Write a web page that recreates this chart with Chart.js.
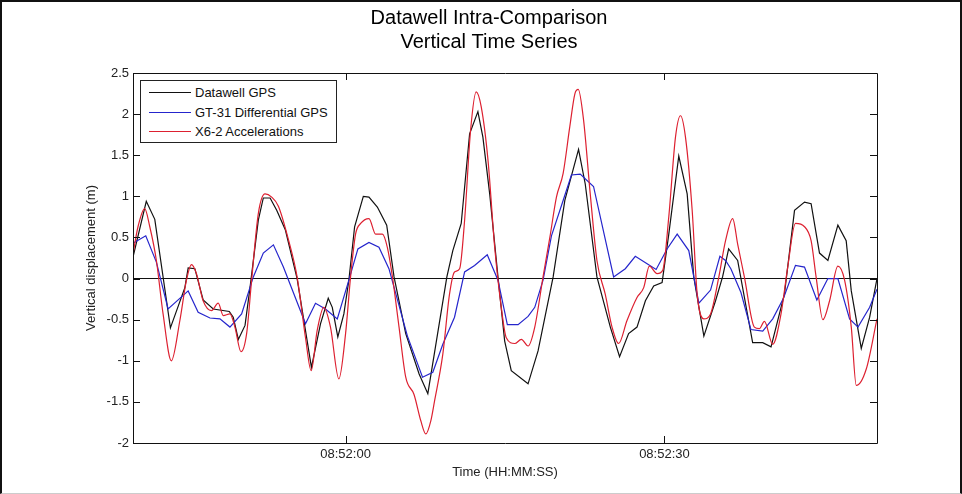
<!DOCTYPE html>
<html lang="en">
<head>
    <meta charset="UTF-8">
    <title>Datawell Intra-Comparison</title>
    <script src="https://cdn.jsdelivr.net/npm/chart.js"></script>
    <style>
        html, body { margin: 0; padding: 0; background: #fff; }
        #wrap { position: relative; width: 962px; height: 494px; }
        #frame { position: absolute; left: 0; top: 0; width: 958px; height: 491px;
                 border: 2px solid #111; border-bottom: 1px solid #ccc; pointer-events: none; }
        #legend { position: absolute; left: 140px; top: 80px; width: 195px; height: 61px;
                  border: 1px solid #222; background: #fff;
                  font: 13px "Liberation Sans", Arial, sans-serif; color: #111; }
        #legend div { position: absolute; left: 0; height: 19px; line-height: 19px; white-space: nowrap; }
        #legend span.swatch { position: absolute; left: 8px; top: 9px; width: 42px; height: 0; border-top: 1.3px solid; }
        #legend span.txt { position: absolute; left: 54px; top: 0; }
    </style>
</head>
<body>
<div id="wrap">
    <canvas id="chart" width="962" height="494"></canvas>
    <div id="legend"></div>
    <div id="frame"></div>
</div>
<script>
    // seconds after 08:51:40
    const startClock = 8 * 3600 + 51 * 60 + 40;
    const xTickSeconds = [20, 50];
    const yMin = -2, yMax = 2.5, yStep = 0.5;

    const seriesNames = ['Datawell GPS', 'GT-31 Differential GPS', 'X6-2 Accelerations'];
    const seriesColors = ['#111111', '#2525cc', '#dd2030'];

    const datawellTimes = [0, 1.25, 2.05, 3.52, 4.88, 5.19, 5.82, 6.6, 7.55, 9.06,
        9.43, 9.91, 10.54, 11.01, 11.79, 12.26, 12.9, 13.52, 14.34, 15.44,
        16.79, 17.64, 18.37, 18.75, 19.27, 19.84, 20.31, 20.85, 21.67, 22.2,
        22.99, 23.87, 24.56, 25.66, 26.92, 27.74, 29.53, 30.09, 30.88, 31.67,
        32.45, 32.92, 33.56, 34.34, 34.97, 35.59, 37.17, 38.11, 39.53, 40.63,
        41.92, 42.55, 43.65, 44.91, 45.78, 46.63, 47.42, 48.21, 48.99, 49.78,
        50.41, 51.35, 52.14, 52.76, 53.71, 54.81, 55.47, 56.04, 56.89, 58.3,
        59.25, 60.03, 61.29, 62.24, 63.18, 63.8, 64.59, 65.38, 66.32, 67.1,
        67.58, 68.52, 69.31, 70];
    const datawellValues = [0.26, 0.94, 0.72, -0.60, -0.11, 0.13, 0.12, -0.26, -0.37, -0.40,
        -0.47, -0.74, -0.57, -0.11, 0.71, 0.98, 0.98, 0.83, 0.59, 0.0,
        -1.08, -0.55, -0.24, -0.35, -0.71, -0.43, -0.02, 0.63, 1.0, 0.99,
        0.87, 0.65, 0.02, -0.67, -1.16, -1.40, 0.02, 0.34, 0.67, 1.76,
        2.03, 1.72, 1.03, 0.02, -0.76, -1.12, -1.28, -0.88, 0.02, 0.95,
        1.57, 1.15, 0.02, -0.59, -0.95, -0.67, -0.59, -0.27, -0.09, -0.05,
        0.54, 1.49, 1.03, 0.02, -0.70, -0.27, 0.02, 0.36, 0.22, -0.78,
        -0.78, -0.83, -0.19, 0.83, 0.93, 0.91, 0.31, 0.22, 0.65, 0.46,
        -0.15, -0.85, -0.47, 0.0];

    const gt31Times = [0, 1.2, 2.2, 3.3, 5.19, 6.13, 7.24, 8.18, 9.12, 10.22,
        11.32, 12.26, 13.21, 14.15, 16.23, 17.17, 18.11, 19.22, 20.31, 21.16,
        22.2, 23.14, 24.08, 25.82, 27.24, 28.21, 29.15, 30.25, 31.2, 32.14,
        33.33, 34.34, 35.22, 36.23, 37.17, 37.8, 38.58, 39.37, 40.47, 41.25,
        42.08, 43.33, 45.22, 46.32, 47.26, 48.37, 49.22, 50.25, 51.2, 52.29,
        53.24, 54.34, 55.22, 55.75, 56.25, 57.2, 58.14, 59.25, 60.19, 61.2,
        62.33, 63.18, 64.34, 65.38, 66.32, 67.42, 68.21, 69.31, 70];
    const gt31Values = [0.43, 0.52, 0.20, -0.37, -0.15, -0.41, -0.48, -0.49, -0.59, -0.43,
        0.02, 0.31, 0.41, 0.14, -0.55, -0.30, -0.37, -0.49, -0.02, 0.36,
        0.44, 0.38, 0.12, -0.70, -1.20, -1.14, -0.80, -0.47, 0.08, 0.16,
        0.29, -0.02, -0.56, -0.56, -0.46, -0.35, -0.02, 0.52, 0.95, 1.26,
        1.27, 1.12, 0.02, 0.12, 0.27, 0.18, 0.11, 0.36, 0.54, 0.34,
        -0.30, -0.14, 0.27, 0.22, 0.12, -0.17, -0.62, -0.64, -0.49, -0.24,
        0.16, 0.14, -0.26, 0.0, 0.0, -0.49, -0.59, -0.35, -0.13];

    const x6Times = [0, 0.47, 1.1, 1.58, 2.2, 2.83, 3.61, 4.41, 5.03, 5.5,
        5.97, 6.6, 7.39, 8.02, 8.49, 9.12, 9.59, 10.16, 10.69, 11.16,
        11.79, 12.42, 13.05, 13.68, 14.65, 15.44, 16.23, 16.76, 17.33, 17.95,
        18.58, 19.37, 20.0, 20.47, 20.94, 21.42, 22.2, 22.83, 23.46, 23.93,
        24.41, 25.03, 25.66, 26.44, 27.08, 27.55, 28.02, 28.37, 29.15, 29.78,
        30.25, 30.73, 31.2, 31.76, 32.29, 32.76, 33.4, 34.03, 34.65, 35.12,
        35.92, 36.54, 37.17, 37.8, 38.58, 39.22, 39.84, 40.47, 41.1, 41.58,
        41.89, 42.39, 43.02, 43.65, 44.43, 45.07, 45.69, 46.48, 47.42, 48.05,
        48.58, 49.31, 49.84, 50.41, 51.04, 51.51, 51.98, 52.61, 53.08, 53.71,
        54.34, 55.12, 55.75, 56.42, 56.89, 57.52, 58.46, 58.93, 59.41, 60.19,
        60.97, 61.6, 62.33, 63.18, 63.8, 64.27, 64.91, 65.54, 66.32, 66.95,
        67.58, 68.05, 68.99, 70];
    const x6Values = [0.30, 0.63, 0.85, 0.63, 0.22, -0.43, -1.0, -0.51, -0.02, 0.17,
        0.06, -0.27, -0.39, -0.30, -0.45, -0.43, -0.59, -0.89, -0.67, -0.02,
        0.79, 1.03, 0.99, 0.88, 0.46, 0.02, -0.72, -1.12, -0.63, -0.35,
        -0.59, -1.22, -0.67, 0.02, 0.54, 0.67, 0.73, 0.54, 0.54, 0.38,
        0.02, -0.59, -1.20, -1.41, -1.73, -1.89, -1.73, -1.49, -0.92, -0.19,
        0.08, 0.12, 0.71, 1.80, 2.27, 2.09, 1.44, 0.38, -0.35, -0.72,
        -0.79, -0.74, -0.82, -0.59, 0.02, 0.50, 0.99, 1.28, 1.85, 2.25,
        2.30, 1.93, 1.03, 0.22, -0.19, -0.59, -0.79, -0.51, -0.23, -0.11,
        0.15, 0.06, 0.10, 0.75, 1.72, 1.98, 1.72, 0.83, -0.19, -0.49,
        -0.43, 0.02, 0.46, 0.73, 0.42, 0.02, -0.59, -0.61, -0.52, -0.80,
        -0.43, 0.14, 0.67, 0.63, 0.46, 0.02, -0.50, -0.27, 0.15, -0.02,
        -0.59, -1.30, -1.10, -0.49];

    function pts(times, values) {
        return times.map((t, i) => ({ x: t, y: values[i] }));
    }

    function clock(sec) {
        const s = startClock + Math.round(sec);
        const p = n => String(n).padStart(2, '0');
        return p(Math.floor(s / 3600)) + ':' + p(Math.floor(s / 60) % 60) + ':' + p(s % 60);
    }

    // legend (inside the axes, top left)
    const legendEl = document.getElementById('legend');
    seriesNames.forEach((name, i) => {
        const row = document.createElement('div');
        row.style.top = (2 + i * 19.5) + 'px';
        row.innerHTML = '<span class="swatch" style="border-color:' + seriesColors[i] + '"></span>' +
            '<span class="txt">' + name + '</span>';
        legendEl.appendChild(row);
    });

    // matlab style box with inward ticks on all four sides
    const axesBox = {
        id: 'axesBox',
        afterDraw(chart) {
            const { ctx, chartArea: a, scales: { x, y } } = chart;
            const len = 7;
            ctx.save();
            ctx.strokeStyle = '#111';
            ctx.lineWidth = 1;
            ctx.beginPath();
            ctx.rect(Math.round(a.left) + 0.5, Math.round(a.top) + 0.5,
                Math.round(a.right - a.left), Math.round(a.bottom - a.top));
            y.ticks.forEach(t => {
                const py = Math.round(y.getPixelForValue(t.value)) + 0.5;
                ctx.moveTo(a.left, py); ctx.lineTo(a.left + len, py);
                ctx.moveTo(a.right - len, py); ctx.lineTo(a.right, py);
            });
            x.ticks.forEach(t => {
                const px = Math.round(x.getPixelForValue(t.value)) + 0.5;
                ctx.moveTo(px, a.bottom); ctx.lineTo(px, a.bottom - len);
                ctx.moveTo(px, a.top); ctx.lineTo(px, a.top + len);
            });
            ctx.stroke();
            ctx.restore();
        }
    };

    Chart.defaults.font.family = '"Liberation Sans", Arial, sans-serif';
    Chart.defaults.color = '#222';

    const lineStyle = { borderWidth: 1.2, pointRadius: 0, fill: false, tension: 0 };

    new Chart(document.getElementById('chart'), {
        type: 'line',
        data: {
            datasets: [
                { ...lineStyle, label: seriesNames[2], data: pts(x6Times, x6Values),
                  borderColor: seriesColors[2], cubicInterpolationMode: 'monotone', order: 0 },
                { ...lineStyle, label: seriesNames[1], data: pts(gt31Times, gt31Values),
                  borderColor: seriesColors[1], order: 1 },
                { ...lineStyle, label: seriesNames[0], data: pts(datawellTimes, datawellValues),
                  borderColor: seriesColors[0], order: 2 }
            ]
        },
        options: {
            responsive: false,
            animation: false,
            layout: { padding: { left: 16, right: 0, top: 0, bottom: 0 } },
            plugins: {
                legend: { display: false },
                tooltip: { enabled: false },
                title: {
                    display: true,
                    text: ['Datawell Intra-Comparison', 'Vertical Time Series'],
                    color: '#000',
                    font: { size: 20, weight: 'normal', lineHeight: 1.2 },
                    padding: { top: 6, bottom: 19 }
                }
            },
            scales: {
                x: {
                    type: 'linear',
                    min: 0,
                    max: 70,
                    afterBuildTicks: s => { s.ticks = xTickSeconds.map(v => ({ value: v })); },
                    afterFit: s => { s.height = 51; },
                    grid: { display: false, drawTicks: false },
                    border: { display: false },
                    ticks: { callback: v => clock(v), font: { size: 13 }, padding: 4, maxRotation: 0 },
                    title: { display: true, text: 'Time (HH:MM:SS)', font: { size: 13 },
                             padding: { top: 0, bottom: 14 } }
                },
                y: {
                    min: yMin,
                    max: yMax,
                    afterFit: s => { s.width = 117; },
                    grid: {
                        drawTicks: false,
                        color: c => (c.tick && c.tick.value === 0) ? '#111' : 'rgba(0,0,0,0)',
                        lineWidth: 1
                    },
                    border: { display: false },
                    ticks: { stepSize: yStep, font: { size: 13 }, padding: 4, callback: v => String(v) },
                    title: { display: true, text: 'Vertical displacement (m)', font: { size: 13 },
                             padding: { top: 68, bottom: 0 } }
                },
                // empty right margin so the title centres on the whole figure
                margin: {
                    position: 'right',
                    afterFit: s => { s.width = 85; },
                    grid: { display: false, drawTicks: false },
                    border: { display: false },
                    ticks: { display: false }
                }
            }
        },
        plugins: [axesBox]
    });
</script>
</body>
</html>
